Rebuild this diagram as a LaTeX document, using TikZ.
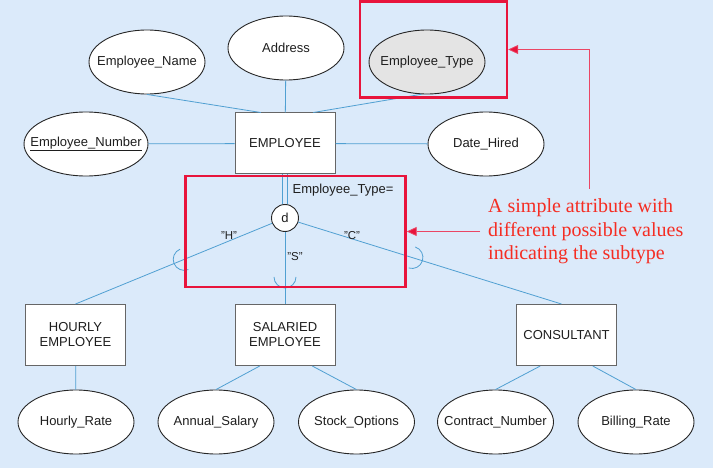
\documentclass[tikz,border=0pt]{standalone}
\usepackage{fontspec}
\setmainfont{Liberation Sans}
\newfontfamily\notefont{Liberation Serif}
\usetikzlibrary{shapes.geometric,arrows.meta,calc,decorations.markings}
\definecolor{bgblue}{RGB}{219,234,250}
\definecolor{connblue}{RGB}{80,160,210}
\definecolor{boxred}{RGB}{232,20,60}
\definecolor{notered}{RGB}{245,45,35}
\definecolor{arrowred}{RGB}{235,70,100}
\definecolor{etgray}{RGB}{228,228,228}
\definecolor{inkgray}{RGB}{30,30,30}
\newcommand{\zw}[1]{\makebox[0pt]{#1}}
\begin{document}
\begin{tikzpicture}[x=1pt,y=-1pt,
  lbl/.style={font=\fontsize{13}{15}\selectfont, text=inkgray},
  attr/.style={ellipse, draw=black!85, fill=white, line width=0.9pt, minimum width=116pt, minimum height=64pt, inner sep=0pt, lbl},
  entity/.style={rectangle, draw=black!60, fill=white, line width=1pt, minimum width=100pt, minimum height=61pt, inner sep=0pt, align=center, lbl},
  conn/.style={draw=connblue, line width=0.8pt},
  usym/.style={postaction={decorate}, decoration={markings, mark=at position #1 with {\draw[connblue, line width=0.8pt] (-11pt,11pt) arc[start angle=90,end angle=-90,radius=11pt];}}},
  redbox/.style={rectangle, draw=boxred, line width=2.4pt, inner sep=0pt},
  notearrow/.style={draw=arrowred, line width=0.8pt, -{Triangle[length=10pt,width=9pt,fill=boxred]}},
  qlbl/.style={font=\fontsize{11.5}{13}\selectfont, text=inkgray, inner sep=0pt}
]
\fill[bgblue] (0,0) rectangle (713,468);
\useasboundingbox (0,0) rectangle (713,468);

% supertype and its attributes
\node[attr] (ename) at (147,62) {\zw{Employee\_Name}};
\node[attr] (addr) at (286,48) {\zw{Address}};
\node[attr, fill=etgray] (etype) at (427,62) {\zw{Employee\_Type}};
\node[attr, minimum width=124pt] (enum) at (86,144) {\zw{\underline{Employee\_Number}}};
\node[entity] (emp) at (285,143.5) {EMPLOYEE};
\node[attr] (date) at (486,144) {\zw{Date\_Hired}};

\draw[conn] (ename.south) -- ($(emp.north west)!0.26!(emp.north east)$);
\draw[conn] (addr) -- (emp);
\draw[conn] (etype.-100) -- ($(emp.north west)!0.78!(emp.north east)$);
\draw[conn] (enum) -- (emp);
\draw[conn] (emp) -- (date);

% disjoint circle
\node[circle, draw=black!85, fill=white, line width=0.9pt, minimum size=27pt, inner sep=0pt, lbl] (d) at (285,218) {d};
\draw[connblue, line width=0.8pt, double=bgblue, double distance=4pt] (emp.south) -- (d.north);
\node[lbl, inner sep=0pt] (etlbl) at (343,190) {Employee\_Type=};

% subtypes
\node[entity] (hourly) at (75.5,335) {HOURLY\\EMPLOYEE};
\node[entity] (salaried) at (285,335) {SALARIED\\EMPLOYEE};
\node[entity] (consult) at (566.5,335) {CONSULTANT};

\draw[conn, usym=106pt] (d) -- (hourly.north);
\draw[conn, usym=56pt] (d) -- (salaried.north);
\draw[conn, usym=130pt] (d) -- ($(consult.north west)!0.45!(consult.north east)$);

\node[qlbl] (qh) at (229,236) {"H"};
\node[qlbl] (qs) at (295,257) {"S"};
\node[qlbl] (qc) at (352,236) {"C"};

% subtype attributes
\node[attr] (hrate) at (76,422) {\zw{Hourly\_Rate}};
\node[attr] (annual) at (216,422) {\zw{Annual\_Salary}};
\node[attr] (stock) at (356.5,422) {\zw{Stock\_Options}};
\node[attr] (contract) at (495.5,422) {\zw{Contract\_Number}};
\node[attr] (billing) at (636,422) {\zw{Billing\_Rate}};

\draw[conn] (hourly) -- (hrate);
\draw[conn] ($(salaried.south west)!0.25!(salaried.south east)$) -- (annual.north);
\draw[conn] ($(salaried.south west)!0.77!(salaried.south east)$) -- (stock.north);
\draw[conn] ($(consult.south west)!0.24!(consult.south east)$) -- (contract.north);
\draw[conn] ($(consult.south west)!0.76!(consult.south east)$) -- (billing.north);

% highlight boxes
\node[redbox, minimum width=147pt, minimum height=96pt] (rb1) at (433.5,49.5) {};
\node[redbox, minimum width=220pt, minimum height=111pt] (rb2) at (295.5,231.5) {};

% annotation
\node[anchor=west, inner sep=0pt, align=left, text=notered, font=\notefont\fontsize{20}{23.5}\selectfont] (note) at (488,231.7) {A simple attribute with\\different possible values\\indicating the subtype};
\coordinate (a1) at (589.5,189);
\coordinate (a2) at (480,231.5);
\draw[notearrow] (a1) |- (rb1.east);
\draw[notearrow] (a2) -- (a2 -| rb2.east);
\end{tikzpicture}
\end{document}
